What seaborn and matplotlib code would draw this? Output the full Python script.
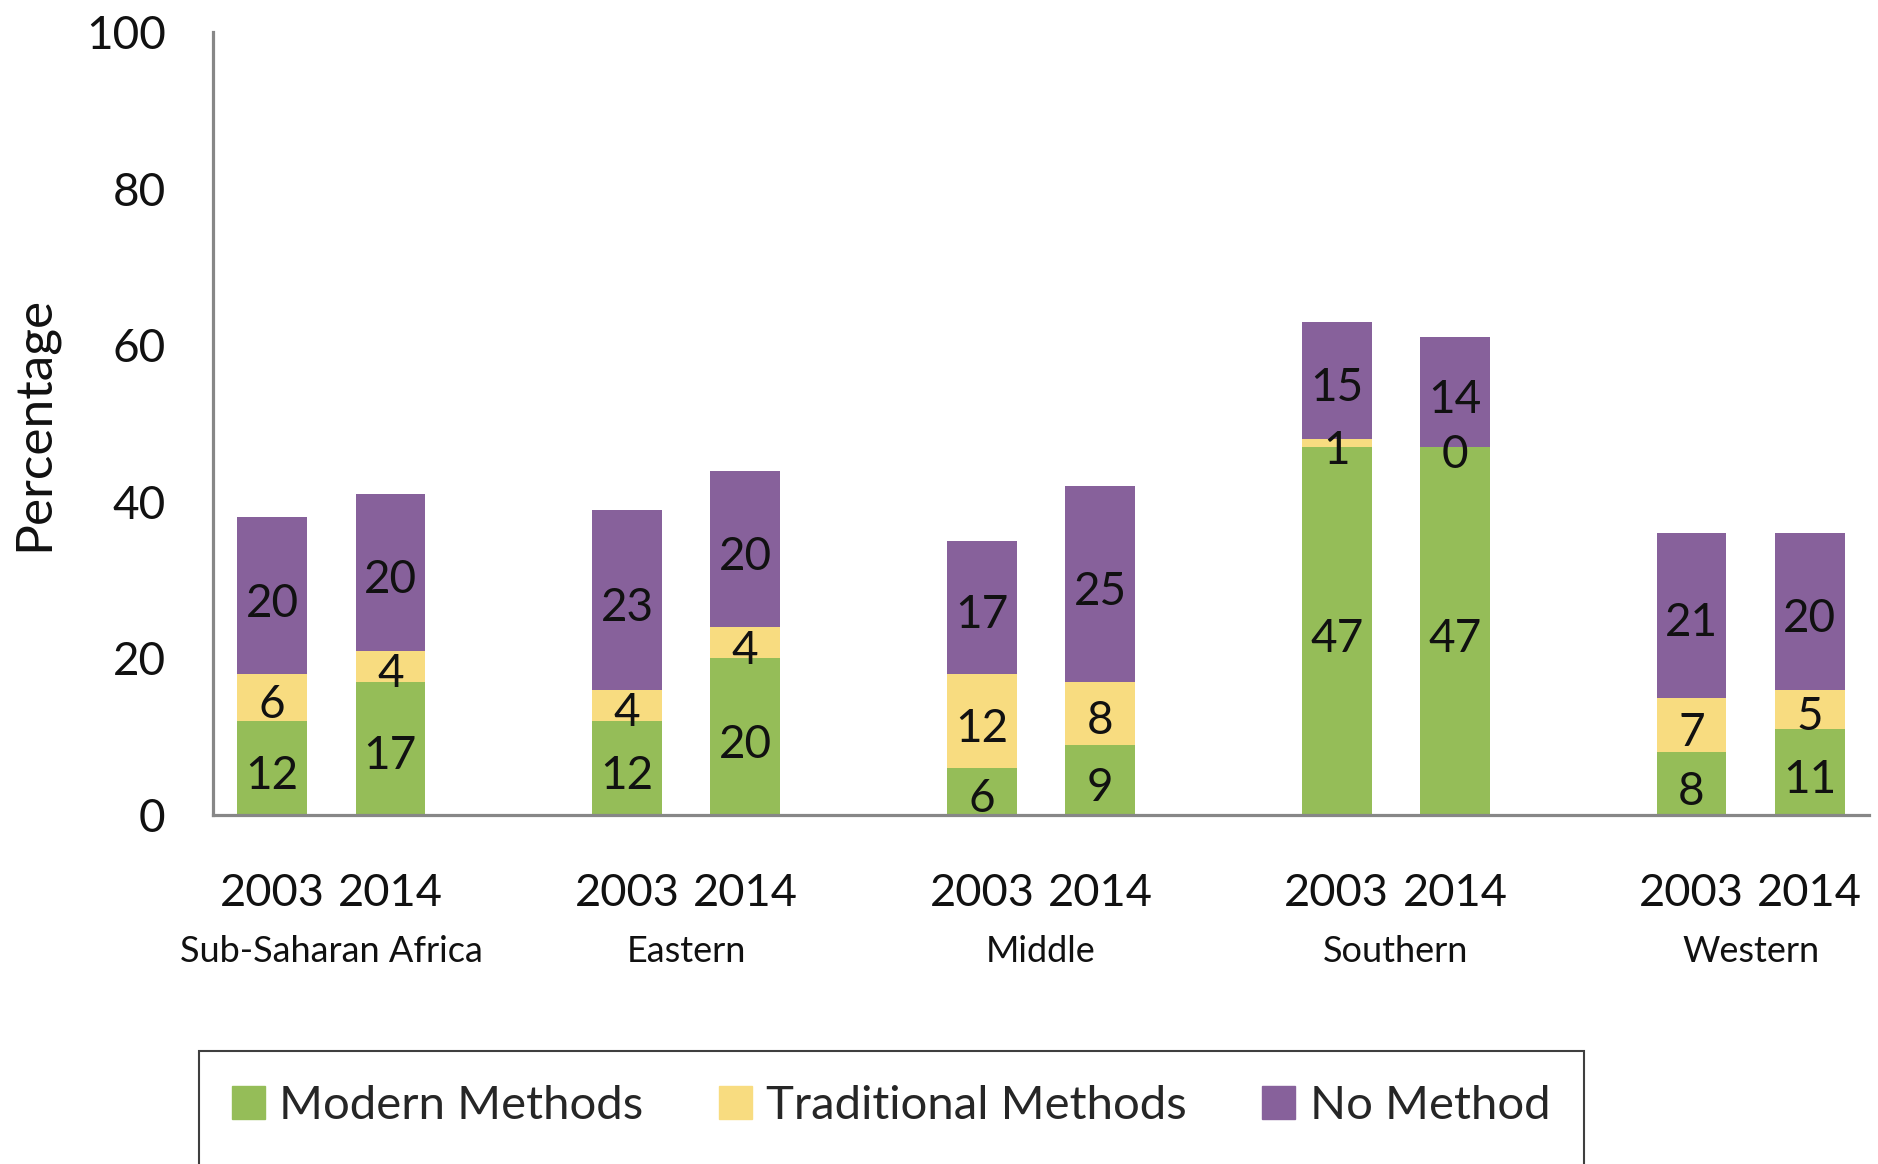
import seaborn as sns
import numpy as np
import pandas as pd
import matplotlib.pyplot as plt
from matplotlib.patches import Rectangle, Patch
from matplotlib.transforms import blended_transform_factory

regions = ['Sub-Saharan Africa', 'Eastern', 'Middle', 'Southern', 'Western']
years = ['2003', '2014']
modern = [12, 17, 12, 20, 6, 9, 47, 47, 8, 11]
traditional = [6, 4, 4, 4, 12, 8, 1, 0, 7, 5]
no_method = [20, 20, 23, 20, 17, 25, 15, 14, 21, 20]

green = '#95bd58'
yellow = '#f8dc80'
purple = '#87619b'

df = pd.DataFrame({
    'region': np.repeat(regions, 2),
    'year': years * len(regions),
    'modern': modern,
    'traditional': traditional,
    'none': no_method,
})
# one empty slot between region groups
df['pos'] = [3 * i + j for i in range(len(regions)) for j in range(2)]
df['mt'] = df.modern + df.traditional
df['total'] = df.mt + df.none

sns.set_style('white')
plt.rcParams['font.family'] = ['Lato', 'DejaVu Sans']

fig = plt.figure(figsize=(18.78, 11.64), dpi=100)
ax = fig.add_axes([0.1134, 0.2998, 0.8818, 0.6727])

# stacked bars: draw cumulative totals from the top down
for col, color in [('total', purple), ('mt', yellow), ('modern', green)]:
    sns.barplot(data=df, x='pos', y=col, native_scale=True, width=0.59,
                color=color, saturation=1, linewidth=0, errorbar=None, ax=ax)

for _, r in df.iterrows():
    segs = [(0, r.modern), (r.modern, r.traditional), (r.mt, r.none)]
    for bottom, h in segs:
        ax.text(r.pos, bottom + h / 2 - 1.0, str(h), ha='center', va='center',
                fontsize=33, color='#111111')

ax.set_xlim(-0.5, 13.5)
ax.set_ylim(0, 100)
ax.set_yticks([0, 20, 40, 60, 80, 100])
ax.set_xticks(df.pos)
ax.set_xticklabels(df.year)
ax.tick_params(axis='x', length=0, pad=42, labelsize=32.5, labelcolor='#111111')
ax.tick_params(axis='y', length=0, pad=34, labelsize=33, labelcolor='#111111')
ax.set_xlabel('')
ax.set_ylabel('Percentage', fontsize=37, color='#111111')
ax.yaxis.set_label_coords(-0.094, 0.5)

for s in ['top', 'right']:
    ax.spines[s].set_visible(False)
for s in ['left', 'bottom']:
    ax.spines[s].set_color('#878787')
    ax.spines[s].set_linewidth(2.3)

trans = blended_transform_factory(ax.transData, ax.transAxes)
for i, reg in enumerate(regions):
    ax.text(3 * i + 0.5, -0.174, reg, transform=trans, ha='center', va='center',
            fontsize=26, color='#111111')

handles = [Patch(color=green), Patch(color=yellow), Patch(color=purple)]
fig.legend(handles, ['Modern Methods', 'Traditional Methods', 'No Method'],
           loc='center', bbox_to_anchor=(891 / 1878, 1 - 1106 / 1164), ncol=3,
           frameon=False, fontsize=34, handlelength=0.7, handleheight=0.7,
           handletextpad=0.3, columnspacing=1.6)
fig.patches.append(Rectangle((199 / 1878, -0.05), (1584 - 199) / 1878, 0.097 + 0.05,
                             transform=fig.transFigure, fill=False,
                             edgecolor='#3f3f3f', linewidth=1.5))

fig.savefig('out.png', dpi=100)
